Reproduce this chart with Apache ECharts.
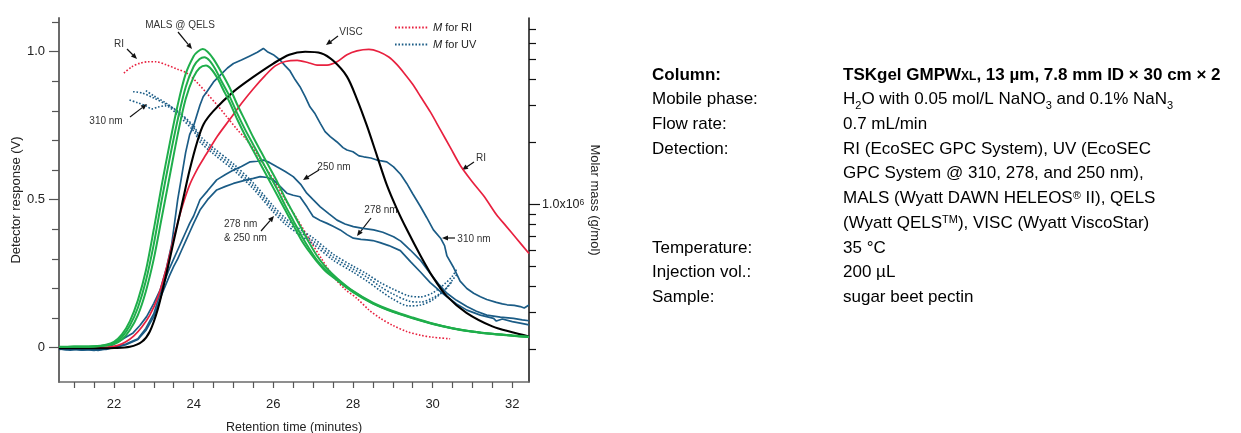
<!DOCTYPE html>
<html>
<head>
<meta charset="utf-8">
<title>Sugar beet pectin - multi-detector GPC</title>
<script src="https://cdn.jsdelivr.net/npm/echarts@6.0.0/dist/echarts.min.js"></script>
<style>
    html, body { margin: 0; padding: 0; background: #fff; }
    #chart1 { width: 1241px; height: 433px; }
</style>
</head>
<body>
<div id="chart1"></div>
<script>
// ---- data (retention time in minutes) ----
var riTime = [20.62, 21.5, 21.9, 22.1, 22.3, 22.5, 22.7, 22.9, 23.1, 23.3, 23.5, 23.7, 23.9, 24.1, 24.3, 24.6, 24.9, 25.2, 25.5, 25.8, 26.05, 26.3, 26.6, 26.9, 27.1, 27.35, 27.6, 27.85, 28.1, 28.4, 28.65, 28.9, 29.1, 29.3, 29.5, 29.7, 29.95, 30.2, 30.45, 30.7, 31.0, 31.3, 31.6, 31.85, 32.1, 32.42];
var riSignal = [0, 0, 0.003, 0.008, 0.02, 0.04, 0.07, 0.11, 0.17, 0.26, 0.37, 0.47, 0.55, 0.605, 0.65, 0.715, 0.77, 0.825, 0.875, 0.92, 0.952, 0.967, 0.971, 0.962, 0.955, 0.955, 0.966, 0.99, 1.003, 1.008, 1.0, 0.982, 0.957, 0.925, 0.89, 0.848, 0.795, 0.735, 0.675, 0.615, 0.56, 0.51, 0.45, 0.41, 0.37, 0.318];

var viscTime = [20.62, 21.5, 22.0, 22.4, 22.7, 22.9, 23.1, 23.3, 23.5, 23.7, 23.9, 24.1, 24.25, 24.5, 25.0, 25.5, 26.0, 26.4, 26.8, 27.2, 27.5, 27.85, 28.1, 28.35, 28.6, 28.85, 29.1, 29.35, 29.7, 30.0, 30.35, 30.85, 31.5, 32.0, 32.42];
var viscSignal = [-0.002, -0.002, -0.001, 0.003, 0.02, 0.055, 0.13, 0.24, 0.36, 0.48, 0.6, 0.7, 0.755, 0.8, 0.865, 0.915, 0.96, 0.99, 1.0, 0.995, 0.97, 0.916, 0.84, 0.75, 0.65, 0.55, 0.47, 0.4, 0.31, 0.24, 0.175, 0.118, 0.072, 0.052, 0.038];

var mals1Time = [20.62, 21.0, 21.5, 21.8, 22.0, 22.2, 22.4, 22.6, 22.8, 23.0, 23.2, 23.4, 23.6, 23.8, 24.0, 24.1, 24.23, 24.35, 24.5, 24.7, 24.9, 25.1, 25.3, 25.5, 25.7, 25.9, 26.1, 26.3, 26.5, 26.7, 26.9, 27.1, 27.3, 27.6, 28.0, 28.5, 29.0, 29.5, 30.0, 30.5, 31.0, 31.5, 32.0, 32.42];
var mals1Signal = [0.003, 0.004, 0.005, 0.01, 0.02, 0.045, 0.09, 0.16, 0.26, 0.4, 0.55, 0.69, 0.82, 0.925, 0.985, 1.0, 1.009, 1.0, 0.975, 0.93, 0.88, 0.82, 0.765, 0.71, 0.66, 0.61, 0.56, 0.505, 0.455, 0.405, 0.355, 0.31, 0.275, 0.235, 0.192, 0.152, 0.124, 0.102, 0.082, 0.066, 0.055, 0.047, 0.041, 0.037];
var mals2Time = [20.62, 21.0, 21.5, 21.8, 22.0, 22.2, 22.4, 22.6, 22.8, 23.0, 23.2, 23.4, 23.6, 23.8, 24.0, 24.15, 24.27, 24.4, 24.55, 24.7, 24.9, 25.1, 25.3, 25.5, 25.7, 25.9, 26.1, 26.3, 26.5, 26.7, 26.9, 27.1, 27.3, 27.6, 28.0, 28.5, 29.0, 29.5, 30.0, 30.5, 31.0, 31.5, 32.0, 32.42];
var mals2Signal = [0.002, 0.003, 0.004, 0.008, 0.016, 0.036, 0.075, 0.135, 0.225, 0.35, 0.5, 0.64, 0.77, 0.88, 0.95, 0.975, 0.981, 0.97, 0.94, 0.9, 0.85, 0.79, 0.735, 0.685, 0.635, 0.585, 0.535, 0.48, 0.43, 0.38, 0.335, 0.295, 0.265, 0.23, 0.19, 0.15, 0.122, 0.1, 0.081, 0.066, 0.055, 0.047, 0.041, 0.036];
var qelsTime = [20.62, 21.0, 21.5, 21.8, 22.0, 22.2, 22.4, 22.6, 22.8, 23.0, 23.2, 23.4, 23.6, 23.8, 24.0, 24.15, 24.31, 24.45, 24.6, 24.75, 24.9, 25.1, 25.3, 25.5, 25.7, 25.9, 26.1, 26.3, 26.5, 26.7, 26.9, 27.1, 27.3, 27.6, 28.0, 28.5, 29.0, 29.5, 30.0, 30.5, 31.0, 31.5, 32.0, 32.42];
var qelsSignal = [0.002, 0.003, 0.004, 0.007, 0.012, 0.028, 0.06, 0.11, 0.19, 0.3, 0.44, 0.58, 0.72, 0.84, 0.915, 0.945, 0.953, 0.94, 0.91, 0.87, 0.83, 0.77, 0.715, 0.665, 0.615, 0.565, 0.515, 0.465, 0.415, 0.365, 0.325, 0.29, 0.26, 0.228, 0.188, 0.149, 0.121, 0.099, 0.08, 0.065, 0.054, 0.046, 0.04, 0.036];

var uv310Time = [20.62, 20.8, 21.0, 21.2, 21.4, 21.6, 21.8, 22.0, 22.2, 22.48, 22.65, 22.82, 23.0, 23.16, 23.32, 23.45, 23.6, 23.7, 23.8, 23.9, 24.0, 24.08, 24.16, 24.24, 24.35, 24.5, 24.7, 24.85, 25.0, 25.2, 25.4, 25.6, 25.75, 25.85, 26.0, 26.17, 26.3, 26.42, 26.55, 26.67, 26.8, 26.92, 27.05, 27.18, 27.3, 27.43, 27.6, 27.75, 27.85, 28.0, 28.15, 28.27, 28.45, 28.6, 28.68, 28.85, 29.02, 29.2, 29.35, 29.5, 29.69, 29.85, 30.02, 30.2, 30.3, 30.36, 30.53, 30.69, 30.86, 31.03, 31.2, 31.36, 31.6, 31.75, 31.87, 32.05, 32.2, 32.3, 32.42];
var uv310Signal = [-0.004, -0.007, -0.003, -0.008, -0.005, -0.009, -0.004, 0.012, 0.028, 0.05, 0.075, 0.105, 0.15, 0.195, 0.27, 0.35, 0.5, 0.58, 0.66, 0.72, 0.75, 0.785, 0.82, 0.848, 0.868, 0.898, 0.925, 0.945, 0.96, 0.972, 0.985, 0.998, 1.011, 1.0, 0.99, 0.972, 0.952, 0.935, 0.905, 0.882, 0.848, 0.814, 0.79, 0.758, 0.73, 0.713, 0.695, 0.676, 0.668, 0.662, 0.648, 0.645, 0.641, 0.634, 0.632, 0.628, 0.611, 0.585, 0.555, 0.52, 0.478, 0.44, 0.398, 0.37, 0.345, 0.31, 0.27, 0.225, 0.2, 0.184, 0.172, 0.163, 0.153, 0.148, 0.145, 0.143, 0.139, 0.134, 0.144];
var uv250Time = [20.62, 20.9, 21.2, 21.5, 21.8, 22.0, 22.3, 22.6, 22.8, 23.0, 23.2, 23.4, 23.5, 23.6, 23.7, 23.8, 23.9, 24.0, 24.16, 24.35, 24.58, 24.8, 25.0, 25.2, 25.42, 25.6, 25.75, 25.9, 26.09, 26.3, 26.5, 26.7, 26.84, 27.0, 27.18, 27.4, 27.6, 27.8, 28.01, 28.25, 28.52, 28.75, 29.02, 29.2, 29.44, 29.69, 29.94, 30.15, 30.36, 30.6, 30.86, 31.1, 31.36, 31.7, 32.03, 32.25, 32.42];
var uv250Signal = [-0.006, -0.003, -0.008, -0.004, -0.006, 0.002, 0.012, 0.03, 0.065, 0.115, 0.2, 0.27, 0.3, 0.33, 0.36, 0.39, 0.42, 0.445, 0.5, 0.53, 0.567, 0.585, 0.6, 0.612, 0.628, 0.63, 0.634, 0.626, 0.611, 0.595, 0.578, 0.55, 0.522, 0.5, 0.476, 0.452, 0.431, 0.418, 0.409, 0.403, 0.398, 0.39, 0.375, 0.36, 0.33, 0.296, 0.251, 0.215, 0.184, 0.16, 0.139, 0.123, 0.11, 0.103, 0.099, 0.094, 0.091];
var uv278Time = [20.62, 20.9, 21.2, 21.5, 21.8, 22.0, 22.3, 22.6, 22.8, 23.0, 23.2, 23.4, 23.5, 23.6, 23.7, 23.8, 23.9, 24.0, 24.16, 24.35, 24.58, 24.8, 25.0, 25.33, 25.5, 25.67, 25.85, 26.0, 26.17, 26.34, 26.5, 26.67, 26.85, 27.0, 27.18, 27.35, 27.5, 27.68, 27.85, 28.01, 28.2, 28.35, 28.5, 28.68, 28.9, 29.19, 29.45, 29.7, 29.94, 30.15, 30.36, 30.6, 30.86, 31.2, 31.53, 31.6, 31.75, 32.0, 32.2, 32.42];
var uv278Signal = [-0.004, -0.008, -0.005, -0.009, -0.003, 0, 0.01, 0.028, 0.058, 0.105, 0.18, 0.245, 0.275, 0.3, 0.33, 0.36, 0.39, 0.42, 0.465, 0.5, 0.533, 0.545, 0.555, 0.567, 0.572, 0.578, 0.575, 0.567, 0.545, 0.522, 0.515, 0.51, 0.475, 0.443, 0.43, 0.42, 0.41, 0.398, 0.382, 0.37, 0.366, 0.364, 0.362, 0.355, 0.345, 0.328, 0.29, 0.255, 0.22, 0.195, 0.172, 0.148, 0.127, 0.11, 0.099, 0.09, 0.097, 0.088, 0.083, 0.077];

// molar mass (g/mol), right log axis
var mRiTime = [22.25, 22.45, 22.65, 22.85, 23.05, 23.3, 23.6, 23.83, 24.1, 24.33, 24.6, 24.83, 25.1, 25.33, 25.6, 25.84, 26.1, 26.34, 26.6, 26.92, 27.2, 27.51, 27.8, 28.1, 28.4, 28.68, 29.0, 29.35, 29.7, 30.0, 30.44];
var mRi = [4.30e6, 4.62e6, 4.80e6, 4.88e6, 4.88e6, 4.73e6, 4.49e6, 4.30e6, 3.85e6, 3.44e6, 3.00e6, 2.65e6, 2.29e6, 2.05e6, 1.74e6, 1.47e6, 1.23e6, 1.02e6, 8.5e5, 6.7e5, 5.5e5, 4.47e5, 3.89e5, 3.51e5, 3.09e5, 2.82e5, 2.60e5, 2.43e5, 2.33e5, 2.28e5, 2.24e5];
var mUv250Time = [22.48, 22.7, 23.0, 23.3, 23.6, 24.0, 24.16, 24.5, 25.0, 25.5, 26.0, 26.3, 26.7, 27.0, 27.5, 28.0, 28.35, 28.7, 29.0, 29.4, 29.7, 30.0, 30.3, 30.5, 30.62];
var mUv250 = [3.50e6, 3.45e6, 3.26e6, 3.05e6, 2.82e6, 2.39e6, 2.14e6, 1.87e6, 1.566e6, 1.267e6, 9.81e5, 8.59e5, 7.51e5, 6.88e5, 5.75e5, 5.03e5, 4.61e5, 4.17e5, 3.90e5, 3.61e5, 3.57e5, 3.73e5, 4.12e5, 4.50e5, 4.92e5];
var mUv278Time = [22.8, 23.0, 23.3, 23.6, 24.0, 24.16, 24.5, 25.0, 25.5, 26.0, 26.3, 26.7, 27.0, 27.5, 28.0, 28.35, 28.7, 29.0, 29.4, 29.7, 30.0, 30.3, 30.5];
var mUv278 = [3.54e6, 3.34e6, 3.09e6, 2.79e6, 2.34e6, 2.07e6, 1.81e6, 1.514e6, 1.226e6, 9.49e5, 8.31e5, 7.27e5, 6.65e5, 5.56e5, 4.87e5, 4.45e5, 3.99e5, 3.69e5, 3.41e5, 3.37e5, 3.53e5, 3.85e5, 4.26e5];
var mUv310Time = [22.39, 22.6, 22.8, 22.95, 23.1, 23.3, 23.6, 24.0, 24.16, 24.5, 25.0, 25.5, 26.0, 26.3, 26.7, 27.0, 27.5, 28.0, 28.35, 28.7, 29.0, 29.4, 29.7, 30.0, 30.3, 30.5, 30.62];
var mUv310 = [3.19e6, 3.09e6, 2.99e6, 2.89e6, 2.95e6, 2.99e6, 2.70e6, 2.26e6, 2.00e6, 1.75e6, 1.465e6, 1.186e6, 9.18e5, 8.03e5, 7.03e5, 6.43e5, 5.38e5, 4.71e5, 4.26e5, 3.81e5, 3.49e5, 3.23e5, 3.26e5, 3.45e5, 3.85e5, 4.31e5, 4.61e5];

// axis ticks
var xTicks = [21, 21.5, 22, 22.5, 23, 23.5, 24, 24.5, 25, 25.5, 26, 26.5, 27, 27.5, 28, 28.5, 29, 29.5, 30, 30.5, 31, 31.5, 32];
var xLabels = [22, 24, 26, 28, 30, 32];
var yMajor = [0, 0.5, 1.0];
var yMinor = [0.1, 0.2, 0.3, 0.4, 0.6, 0.7, 0.8, 0.9, 1.1];
var massMajor = [1e6];
var massMinor = [2e5, 3e5, 4e5, 5e5, 6e5, 7e5, 8e5, 9e5, 2e6, 3e6, 4e6, 5e6, 6e6, 7e6];

var infoLabels = ['{b|Column:}', 'Mobile phase:', 'Flow rate:', 'Detection:', '', '', '', 'Temperature:', 'Injection vol.:', 'Sample:'];
var infoValues = [
    '{b|TSKgel GMPW}{bs|XL}{b|, 13 µm, 7.8 mm ID × 30 cm × 2}',
    'H{sub|2}O with 0.05 mol/L NaNO{sub|3} and 0.1% NaN{sub|3}',
    '0.7 mL/min',
    'RI (EcoSEC GPC System), UV (EcoSEC',
    'GPC System @ 310, 278, and 250 nm),',
    'MALS (Wyatt DAWN HELEOS{sup|®} II), QELS',
    '(Wyatt QELS{sup|TM}), VISC (Wyatt ViscoStar)',
    '35 °C',
    '200 µL',
    'sugar beet pectin'
];

var FONT = "'Liberation Sans', Arial, sans-serif";
var RED = '#e8213f', BLUE = '#1b5c86', GREEN = '#1fae4b', TXT = '#231f20';

function pairs(t, v) {
    return t.map(function (x, i) { return [x, v[i]]; });
}
function logPairs(t, m) {
    return t.map(function (x, i) { return [x, Math.log10(m[i])]; });
}
function log10All(a) {
    return a.map(function (v) { return Math.log10(v); });
}

function lineSeries(name, data, color, width, yIdx, dotted, smooth) {
    return {
        name: name,
        type: 'line',
        yAxisIndex: yIdx,
        data: data,
        symbol: 'none',
        smooth: smooth,
        silent: true,
        color: color,
        lineStyle: { color: color, width: width, type: dotted ? [1.6, 1.8] : 'solid' }
    };
}

var myChart = echarts.init(document.getElementById('chart1'));

var yMin = -0.1159, yMax = 1.1139;
var mMin = 5.1415, mMax = 6.9;

// annotation call-outs (pixel layout)
var notes = [
    { text: 'RI', x: 119, y: 44, align: 'center', from: [127, 49], to: [137, 59] },
    { text: 'MALS @ QELS', x: 180, y: 25, align: 'center', from: [178, 32], to: [192, 49] },
    { text: '310 nm', x: 106, y: 121, align: 'center', from: [130, 117], to: [147, 104] },
    { text: 'VISC', x: 351, y: 32, align: 'center', from: [338, 36], to: [326, 45] },
    { text: '250 nm', x: 334, y: 167, align: 'center', from: [319, 170], to: [303, 180] },
    { text: '278 nm', x: 381, y: 210, align: 'center', from: [371, 218], to: [357, 236] },
    { text: '278 nm\n& 250 nm', x: 224, y: 231, align: 'left', from: [261, 231], to: [274, 216] },
    { text: 'RI', x: 481, y: 158, align: 'center', from: [474, 162], to: [462, 170] },
    { text: '310 nm', x: 474, y: 239, align: 'center', from: [455, 238], to: [442, 238] }
];

var graphics = [];
notes.forEach(function (n) {
    graphics.push({
        type: 'text', x: n.x, y: n.y, silent: true,
        style: { text: n.text, font: '10px ' + FONT, fill: '#333', align: n.align, verticalAlign: 'middle', lineHeight: 14 }
    });
    var dx = n.to[0] - n.from[0], dy = n.to[1] - n.from[1];
    var len = Math.sqrt(dx * dx + dy * dy), ux = dx / len, uy = dy / len;
    var bx = n.to[0] - ux * 6, by = n.to[1] - uy * 6;
    graphics.push({
        type: 'line', silent: true,
        shape: { x1: n.from[0], y1: n.from[1], x2: bx, y2: by },
        style: { stroke: '#111', lineWidth: 1.2 }
    });
    graphics.push({
        type: 'polygon', silent: true,
        shape: { points: [n.to, [bx - uy * 2.6, by + ux * 2.6], [bx + uy * 2.6, by - ux * 2.6]] },
        style: { fill: '#111' }
    });
});

var richInfo = {
    n: { fontFamily: FONT, fontSize: 17, lineHeight: 24.7, color: TXT },
    b: { fontFamily: FONT, fontSize: 17, fontWeight: 'bold', lineHeight: 24.7, color: TXT },
    bs: { fontFamily: FONT, fontSize: 12, fontWeight: 'bold', color: TXT, verticalAlign: 'bottom', padding: [0, 0, 5, 0] },
    sub: { fontFamily: FONT, fontSize: 11, color: TXT, verticalAlign: 'bottom', padding: [0, 0, 1, 0] },
    sup: { fontFamily: FONT, fontSize: 11, color: TXT, verticalAlign: 'top', padding: [4, 0, 0, 0] }
};
function wrapLine(s) {
    // plain parts go into the {n|} style
    return s.split(/(\{[a-z]+\|[^}]*\})/).map(function (p) {
        if (!p) return '';
        return p.charAt(0) === '{' ? p : '{n|' + p + '}';
    }).join('');
}
graphics.push({
    type: 'text', x: 652, y: 62.6, silent: true,
    style: { text: infoLabels.map(function (s) { return s ? wrapLine(s) : '{n| }'; }).join('\n'), rich: richInfo }
});
graphics.push({
    type: 'text', x: 843, y: 62.6, silent: true,
    style: { text: infoValues.map(wrapLine).join('\n'), rich: richInfo }
});

option = {
    animation: false,
    backgroundColor: '#fff',
    grid: { left: 59, right: 712, top: 18, bottom: 51, containLabel: false, outerBoundsMode: 'none' },
    legend: {
        data: ['M for RI', 'M for UV'],
        orient: 'vertical',
        left: 389, top: 17,
        itemWidth: 33, itemHeight: 10, itemGap: 6,
        selectedMode: false,
        itemStyle: { opacity: 0 },
        formatter: function (name) { return '{i|M}{t|' + name.slice(1) + '}'; },
        textStyle: {
            rich: {
                i: { fontFamily: FONT, fontSize: 11, fontStyle: 'italic', color: '#222', lineHeight: 14 },
                t: { fontFamily: FONT, fontSize: 11, color: '#222', lineHeight: 14 }
            }
        }
    },
    xAxis: {
        type: 'value', min: 20.62, max: 32.42,
        name: 'Retention time (minutes)', nameLocation: 'middle', nameGap: 39,
        nameTextStyle: { fontFamily: FONT, fontSize: 12.5, color: '#222' },
        axisLine: { onZero: false, lineStyle: { color: '#6b6b6b', width: 1.6 } },
        axisTick: { customValues: xTicks, length: 6, lineStyle: { color: '#555', width: 1.2 } },
        axisLabel: { customValues: xLabels, margin: 16, fontFamily: FONT, fontSize: 13, color: '#222' },
        splitLine: { show: false }
    },
    yAxis: [
        {
            type: 'value', position: 'left', min: yMin, max: yMax,
            name: 'Detector response (V)', nameLocation: 'middle', nameGap: 28, nameRotate: 90,
            nameTextStyle: { fontFamily: FONT, fontSize: 13, color: '#222' },
            axisLine: { show: true, onZero: false, lineStyle: { color: '#6b6b6b', width: 2 } },
            axisTick: { customValues: yMajor, length: 10, lineStyle: { color: '#555', width: 1.2 } },
            axisLabel: {
                customValues: yMajor, margin: 14, fontFamily: FONT, fontSize: 13, color: '#222',
                formatter: function (v) { return v === 0 ? '0' : v.toFixed(1); }
            },
            splitLine: { show: false }
        },
        {
            type: 'value', position: 'right', min: mMin, max: mMax,
            name: 'Molar mass (g/mol)', nameLocation: 'middle', nameGap: 58, nameRotate: -90,
            nameTextStyle: { fontFamily: FONT, fontSize: 13, color: '#222' },
            axisLine: { show: true, onZero: false, lineStyle: { color: '#111', width: 1.5 } },
            axisTick: { customValues: log10All(massMajor), length: 11, lineStyle: { color: '#111', width: 1.2 } },
            axisLabel: {
                customValues: log10All(massMajor), margin: 13,
                formatter: function () { return '{m|1.0x10}{s|6}'; },
                rich: {
                    m: { fontFamily: FONT, fontSize: 12.5, color: '#222' },
                    s: { fontFamily: FONT, fontSize: 8.5, color: '#222', verticalAlign: 'top' }
                }
            },
            splitLine: { show: false }
        },
        {
            type: 'value', position: 'left', min: yMin, max: yMax,
            axisLine: { show: false, onZero: false },
            axisTick: { customValues: yMinor, length: 7, lineStyle: { color: '#555', width: 1.2 } },
            axisLabel: { show: false },
            splitLine: { show: false }
        },
        {
            type: 'value', position: 'right', min: mMin, max: mMax,
            axisLine: { show: false, onZero: false },
            axisTick: { customValues: log10All(massMinor), length: 7, lineStyle: { color: '#111', width: 1.2 } },
            axisLabel: { show: false },
            splitLine: { show: false }
        }
    ],
    graphic: graphics,
    series: [
        lineSeries('M for RI', logPairs(mRiTime, mRi), RED, 1.6, 1, true, 0.3),
        lineSeries('M for UV', logPairs(mUv250Time, mUv250), BLUE, 1.6, 1, true, 0.3),
        lineSeries('M for UV', logPairs(mUv278Time, mUv278), BLUE, 1.6, 1, true, 0.3),
        lineSeries('M for UV', logPairs(mUv310Time, mUv310), BLUE, 1.6, 1, true, 0.3),
        lineSeries('UV 278 nm', pairs(uv278Time, uv278Signal), BLUE, 1.7, 0, false, false),
        lineSeries('UV 250 nm', pairs(uv250Time, uv250Signal), BLUE, 1.7, 0, false, false),
        lineSeries('UV 310 nm', pairs(uv310Time, uv310Signal), BLUE, 1.7, 0, false, false),
        lineSeries('RI', pairs(riTime, riSignal), RED, 1.7, 0, false, 0.3),
        lineSeries('VISC', pairs(viscTime, viscSignal), '#000', 2.1, 0, false, 0.3),
        lineSeries('QELS', pairs(qelsTime, qelsSignal), GREEN, 2, 0, false, 0.3),
        lineSeries('MALS 2', pairs(mals2Time, mals2Signal), GREEN, 2, 0, false, 0.3),
        lineSeries('MALS', pairs(mals1Time, mals1Signal), GREEN, 2, 0, false, 0.3)
    ]
};

myChart.setOption(option);
</script>
</body>
</html>
